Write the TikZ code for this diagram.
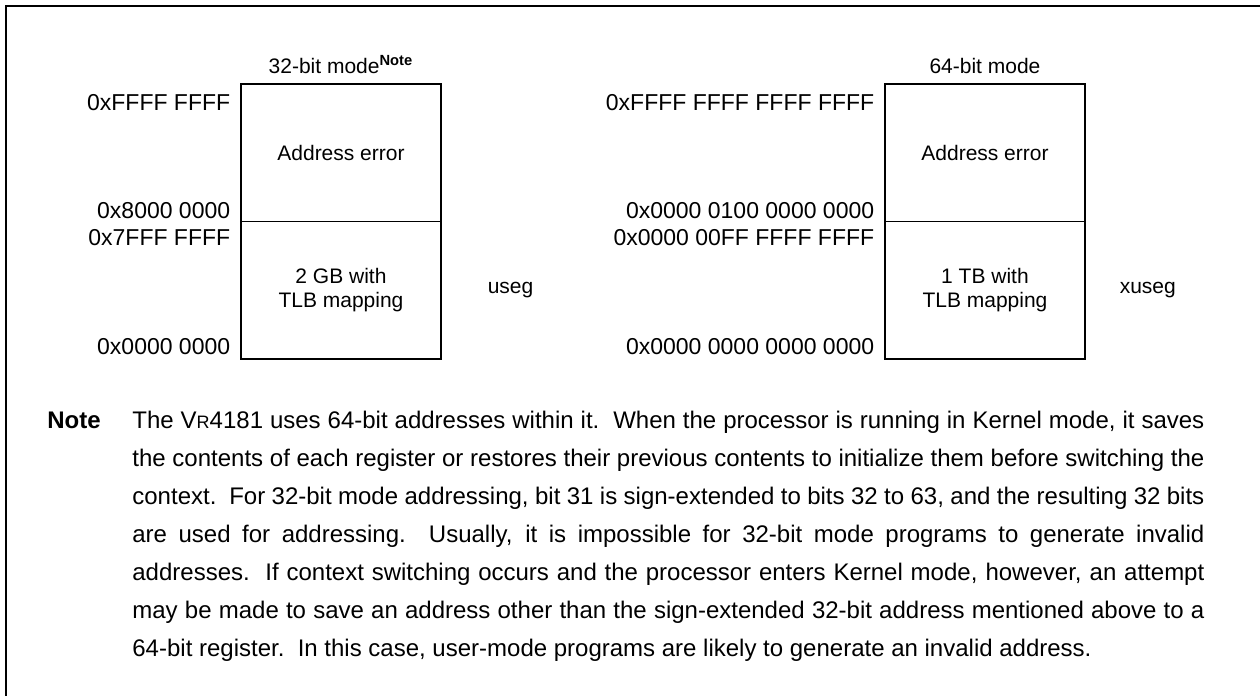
\documentclass[tikz,border=0pt]{standalone}
\usepackage{fontspec}
\setmainfont{Liberation Sans}
\usetikzlibrary{positioning}
\newcommand{\vr}{V{\fontsize{9}{9}\selectfont R}}

\begin{document}
\begin{tikzpicture}[x=0.5pt, y=-0.5pt,
  frameline/.style={line width=1pt},
  boxline/.style={line width=1pt},
  region/.style={minimum width=100pt, minimum height=68.5pt, inner sep=0pt, align=center,
                 font=\fontsize{10.5}{12}\selectfont},
  addr/.style={inner sep=0pt, font=\fontsize{11.5}{13}\selectfont},
  caption/.style={inner sep=0pt, font=\fontsize{10.5}{12}\selectfont}]
  \useasboundingbox (0,0) rectangle (1260,696);
  \draw[frameline] (6,696) -- (6,6) -- (1260,6);
  % ================================================================== 32-bit mode
  \node[region] (err32) at (341,152.5) {Address error};
  \node[region, below=0pt of err32] (map32) {2 GB with\\ TLB mapping};
  \draw[boxline] (err32.north west) rectangle (map32.south east);
  \draw (err32.south west) -- (err32.south east);
  \node[caption, anchor=base] (mode32) at ([yshift=5pt]err32.north) {32-bit mode\textsuperscript{\textbf{Note}}};
  \node[addr, anchor=north east] (top32) at ([xshift=-5pt, yshift=-5pt]err32.north west) {0xFFFF FFFF};
  \node[addr, anchor=south east] (hi32) at ([xshift=-5pt, yshift=1pt]err32.south west) {0x8000 0000};
  \node[addr, anchor=north east] (lo32) at ([xshift=-5pt, yshift=-4pt]map32.north west) {0x7FFF FFFF};
  \node[addr, anchor=south east] (bot32) at ([xshift=-5pt, yshift=2pt]map32.south west) {0x0000 0000};
  \node[caption, right=23pt of map32] (useg) {useg};
  % ================================================================== 64-bit mode
  \node[region] (err64) at (985,152.5) {Address error};
  \node[region, below=0pt of err64] (map64) {1 TB with\\ TLB mapping};
  \draw[boxline] (err64.north west) rectangle (map64.south east);
  \draw (err64.south west) -- (err64.south east);
  \node[caption, anchor=base] (mode64) at ([yshift=5pt]err64.north) {64-bit mode};
  \node[addr, anchor=north east] (top64) at ([xshift=-5pt, yshift=-5pt]err64.north west) {0xFFFF FFFF FFFF FFFF};
  \node[addr, anchor=south east] (hi64) at ([xshift=-5pt, yshift=1pt]err64.south west) {0x0000 0100 0000 0000};
  \node[addr, anchor=north east] (lo64) at ([xshift=-5pt, yshift=-4pt]map64.north west) {0x0000 00FF FFFF FFFF};
  \node[addr, anchor=south east] (bot64) at ([xshift=-5pt, yshift=2pt]map64.south west) {0x0000 0000 0000 0000};
  \node[caption, right=17pt of map64] (xuseg) {xuseg};
  % ================================================================== note
  \node[anchor=base west, inner sep=0pt, font=\fontsize{12}{19}\selectfont] (note) at (47,428)
    {\makebox[42.5pt][l]{\bfseries Note}\parbox[t]{536pt}{\fontsize{12}{19}\selectfont
     \makebox[\linewidth][s]{The \vr4181 uses 64-bit addresses within it.\ \ When the processor is running in Kernel mode, it saves}\\
     \makebox[\linewidth][s]{the contents of each register or restores their previous contents to initialize them before switching the}\\
     \makebox[\linewidth][s]{context.\ \ For 32-bit mode addressing, bit 31 is sign-extended to bits 32 to 63, and the resulting 32 bits}\\
     \makebox[\linewidth][s]{are used for addressing.\ \ Usually, it is impossible for 32-bit mode programs to generate invalid}\\
     \makebox[\linewidth][s]{addresses.\ \ If context switching occurs and the processor enters Kernel mode, however, an attempt}\\
     \makebox[\linewidth][s]{may be made to save an address other than the sign-extended 32-bit address mentioned above to a}\\
     64-bit register.\ \ In this case, user-mode programs are likely to generate an invalid address.}};
\end{tikzpicture}
\end{document}
